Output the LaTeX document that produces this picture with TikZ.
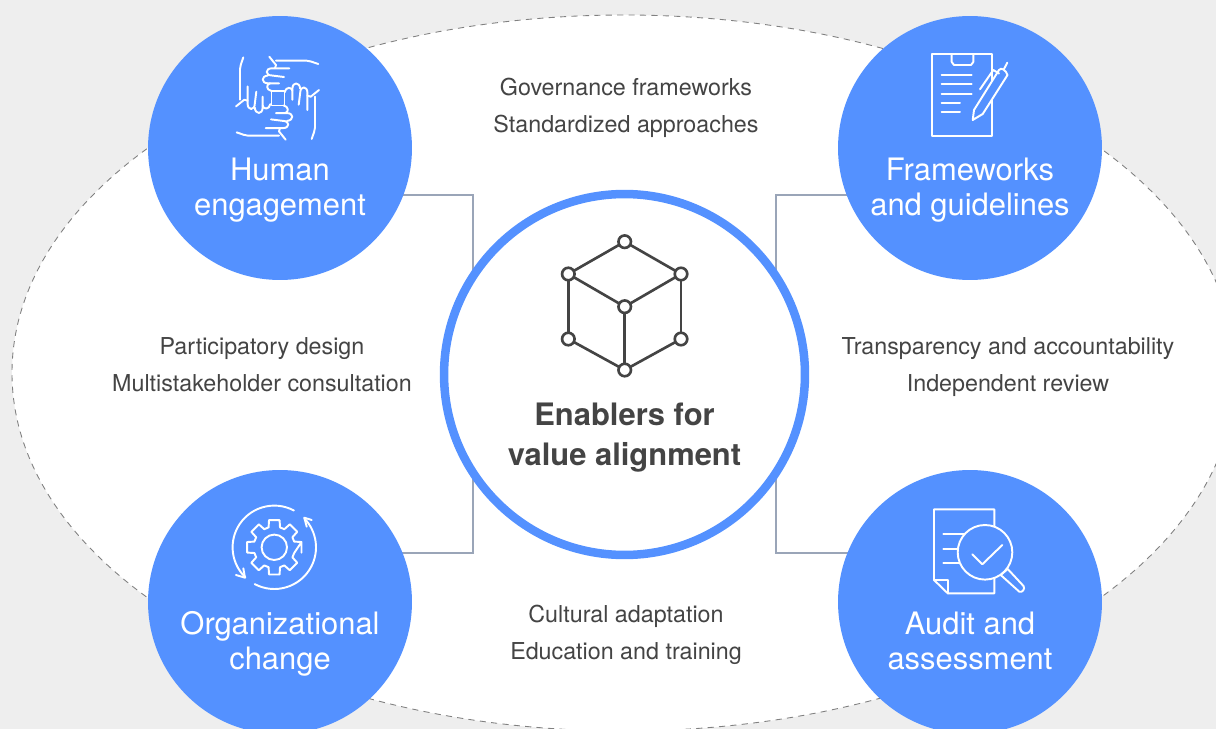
\documentclass[tikz,border=0pt]{standalone}
\usepackage{fontspec}
\setmainfont{TeX Gyre Heros}
\usetikzlibrary{backgrounds}
\definecolor{pageback}{HTML}{EEEEEE}
\definecolor{discblue}{HTML}{5491FF}
\definecolor{linkgray}{HTML}{9AA5B8}
\definecolor{inktext}{HTML}{444444}
\tikzset{
    disc/.style={circle,fill=discblue,minimum size=5.28cm,inner sep=0pt,outer sep=0pt},
    hubring/.style={circle,draw=discblue,line width=0.17cm,fill=white,minimum size=7.22cm,inner sep=0pt,outer sep=0pt},
    link/.style={draw=linkgray,line width=1.2pt},
    icon/.style={draw=white,line width=1.1pt,line cap=round,line join=round},
    vertex/.style={circle,draw=inktext,line width=1.5pt,fill=white,minimum size=0.25cm,inner sep=0pt,outer sep=0pt},
    edge/.style={draw=inktext,line width=1.5pt},
    disctext/.style={align=center,text=white,font=\fontsize{17.6}{20}\selectfont},
    sidetext/.style={align=center,text=inktext,font=\fontsize{13.25}{21}\selectfont},
    hubtext/.style={align=center,text=inktext,font=\bfseries\fontsize{17.6}{22.7}\selectfont}
}
\begin{document}
\begin{tikzpicture}[x=0.02cm,y=-0.02cm]
        \useasboundingbox (0,0) rectangle (1216,729);
        \clip (0,0) rectangle (1216,729);

        \node[disc] (human) at (280,148) {};
        \node[disc] (frame) at (970,148) {};
        \node[disc] (organ) at (280,602) {};
        \node[disc] (audit) at (970,602) {};
        \node[hubring] (hub) at (624.5,374.5) {};

        \begin{scope}[on background layer]
            \fill[pageback] (0,0) rectangle (1216,729);
            \draw[fill=white,draw=gray,line width=0.5pt,dash pattern=on 3.5pt off 3pt] (624,373) ellipse [x radius=612,y radius=358];
            \draw[link] (human.-21.5) -| (hub.147);
            \draw[link] (frame.201.5) -| (hub.33);
            \draw[link] (organ.22.5) -| (hub.213);
            \draw[link] (audit.158.5) -| (hub.-33);
        \end{scope}

        \node[disctext] (humantext) at (280,190) {Human\\engagement};
        \node[disctext] (frametext) at (970,190) {Frameworks\\and guidelines};
        \node[disctext] (organtext) at (280,644) {Organizational\\change};
        \node[disctext] (audittext) at (970,641) {Audit and\\assessment};

        \node[sidetext] (toptext) at (626,108) {Governance frameworks\\Standardized approaches};
        \node[sidetext] (lefttext) at (262,365) {Participatory design\\Multistakeholder consultation};
        \node[sidetext] (righttext) at (1008,367) {Transparency and accountability\\Independent review};
        \node[sidetext] (bottomtext) at (626,635) {Cultural adaptation\\Education and training};
        \node[hubtext] (hubtitle) at (624.5,437.5) {Enablers for\\value alignment};

        % cube
        \node[vertex] (ctop) at (624.7,241.7) {};
        \node[vertex] (cleft) at (568.3,274) {};
        \node[vertex] (cright) at (681,274) {};
        \node[vertex] (cmid) at (624.7,306.7) {};
        \node[vertex] (clowl) at (568.3,339) {};
        \node[vertex] (clowr) at (681,339) {};
        \node[vertex] (cbot) at (624.7,370) {};
        \draw[edge] (ctop) -- (cleft);
        \draw[edge] (ctop) -- (cright);
        \draw[edge] (cleft) -- (cmid);
        \draw[edge] (cright) -- (cmid);
        \draw[edge] (cleft) -- (clowl);
        \draw[edge] (cright) -- (clowr);
        \draw[edge] (clowl) -- (cbot);
        \draw[edge] (clowr) -- (cbot);
        \draw[edge] (cmid) -- (cbot);

        % hands
        \foreach \turn in {0,90,180,270} {
            \begin{scope}[rotate around={\turn:(277.5,98.2)}]
                \draw[icon] (318.3,64) .. controls (312,62) and (310,60.7) .. (306.7,60.7) -- (276,60.7);
                \draw[icon] (269.3,56.7) -- (276,65) -- (275,68.3);
                \draw[icon] (289.3,68.3) -- (272,68.3) .. controls (265,68.3) and (265,75.5) .. (272,75.5) -- (284,77);
                \draw[icon] (268,75.5) .. controls (261,76) and (261,83.3) .. (268,83.3) -- (279,83.3);
                \draw[icon] (270,83.3) .. controls (266,84) and (266,90) .. (271.5,91);
            \end{scope}
        }
        \draw[icon] (271.5,91) rectangle (284.5,105.5);

        % clipboard
        \draw[icon] (932.3,54.3) rectangle (992.3,136);
        \draw[icon] (951.7,54.3) -- (951.7,62) -- (954,65) -- (971,65) -- (973.3,62) -- (973.3,54.3);
        \foreach \rowy in {75,84.3,93.7} {
            \draw[icon] (941.7,\rowy) -- (971.7,\rowy);
        }
        \foreach \rowy in {102.7,112} {
            \draw[icon] (941.7,\rowy) -- (960,\rowy);
        }
        \draw[icon,fill=discblue] (972.7,120) -- (974,110) -- (999,70) .. controls (1001,67) and (1006,70) .. (1007.5,75) -- (982.7,114) -- cycle;
        \draw[icon] (980,89.3) -- (993.3,70) -- (999,73.5);
        \draw[icon] (1004,69) -- (1007.3,62.7);

        % gear
        \begin{scope}[shift={(274.3,547.3)},yscale=-1]
            \draw[icon] (11:27.7) \foreach \tooth in {0,45,...,315} { -- (\tooth-11:27.7) -- (\tooth+11:27.7) -- (\tooth+16:20.7) -- (\tooth+29:20.7) } -- cycle;
            \draw[icon] (0,0) circle [radius=12.7];
            \draw[icon] (62:41.7) arc [start angle=62,end angle=226,radius=41.7];
            \draw[icon] (242:41.7) arc [start angle=242,end angle=404,radius=41.7];
            \draw[icon] (-38.3,-27.7) -- (-29.3,-30.4) -- (-31,-21);
            \draw[icon] (37.4,27.3) -- (30,29.6) -- (32.4,20.6);
        \end{scope}

        % audit
        \draw[icon] (934,509.3) -- (994.3,509.3) -- (994.3,593.3) -- (947.7,593.3) -- (934,580) -- cycle;
        \draw[icon] (934,580) -- (947.7,580) -- (947.7,593.3);
        \foreach \rowy in {534,548.7,563.3} {
            \draw[icon] (943.3,\rowy) -- (970,\rowy);
        }
        \draw[icon,fill=discblue] (1000.7,575) -- (1019.3,591.7) .. controls (1022,593) and (1025.5,589) .. (1023.5,586) -- (1007.7,569) -- cycle;
        \draw[icon,fill=discblue] (985,552.3) circle [radius=27.3];
        \draw[icon] (972.3,554.3) -- (982.3,564.3) -- (1002.3,545);
\end{tikzpicture}
\end{document}
